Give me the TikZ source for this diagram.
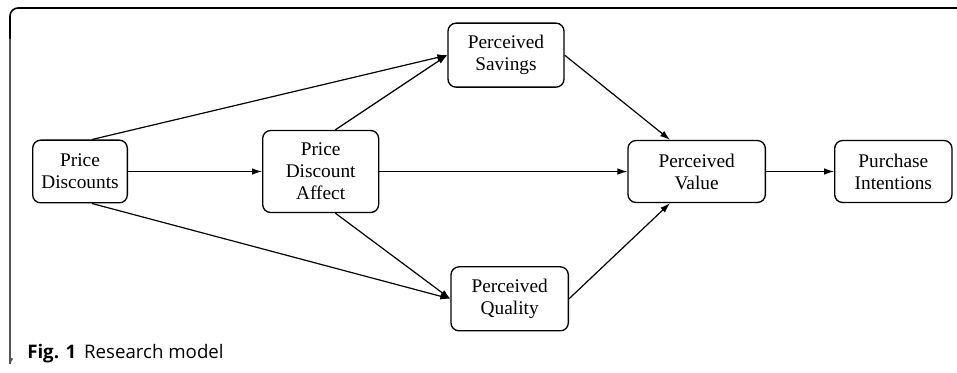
\documentclass[tikz,border=0pt]{standalone}
\usepackage{fontspec}
\setmainfont{Liberation Serif}
\newfontfamily\capfont{Open Sans}
\usepackage{xcolor}
\usepackage{tikz}
\usetikzlibrary{arrows.meta,positioning}
\definecolor{framegrey}{HTML}{555555}

\begin{document}
\begin{tikzpicture}[
  x=0.75pt,y=-0.75pt,
  font=\fontsize{14.5}{16.5}\selectfont,
  box/.style={draw,rounded corners=6pt,align=center,inner sep=2pt,
              line width=1pt,minimum height=47pt},
  ar/.style={-{Latex[length=7.5pt,width=5pt]},line width=0.9pt}
]
\useasboundingbox (0,0) rectangle (957,373);

% frame
\draw[line width=1.2pt,rounded corners=6pt] (957,8) -- (10,8) -- (10,40);
\draw[framegrey,line width=1.3pt] (10,39) -- (10,364) arc[start angle=180,end angle=225,radius=8];

\node[box,minimum width=71pt] (disc) at (80,171.5) {Price\\Discounts};
\node[box,minimum width=87pt,minimum height=61.5pt,right=100.5pt of disc] (affect)
     {Price\\Discount\\Affect};
\node[box,minimum width=103pt,minimum height=46.5pt,right=186pt of affect] (value)
     {Perceived\\Value};
\node[box,minimum width=88pt,minimum height=46.5pt,right=51pt of value] (intent)
     {Purchase\\Intentions};
\node[box,minimum width=87pt,minimum height=48pt,above right=31.5pt and 51pt of affect] (savings)
     {Perceived\\Savings};
\node[box,minimum width=88pt,minimum height=48pt,below right=39.75pt and 53.25pt of affect] (quality)
     {Perceived\\Quality};

\draw[ar] ([xshift=9pt]disc.north) -- (savings.west);
\draw[ar] ([xshift=11pt]affect.north) -- (savings.west);
\draw[ar] ([xshift=9pt]disc.south) -- (quality.west);
\draw[ar] ([xshift=11pt]affect.south) -- (quality.west);
\draw[ar] (disc) -- (affect);
\draw[ar] (affect) -- (value);
\draw[ar] (savings.east) -- ([xshift=-20pt]value.north);
\draw[ar] (quality.east) -- ([xshift=-20pt]value.south);
\draw[ar] (value) -- (intent);

\node[anchor=base west,inner sep=0pt,font=\capfont\fontsize{14}{17}\selectfont] (cap) at (27,359)
     {\textbf{Fig. 1}\hspace{6pt}Research model};
\end{tikzpicture}
\end{document}
